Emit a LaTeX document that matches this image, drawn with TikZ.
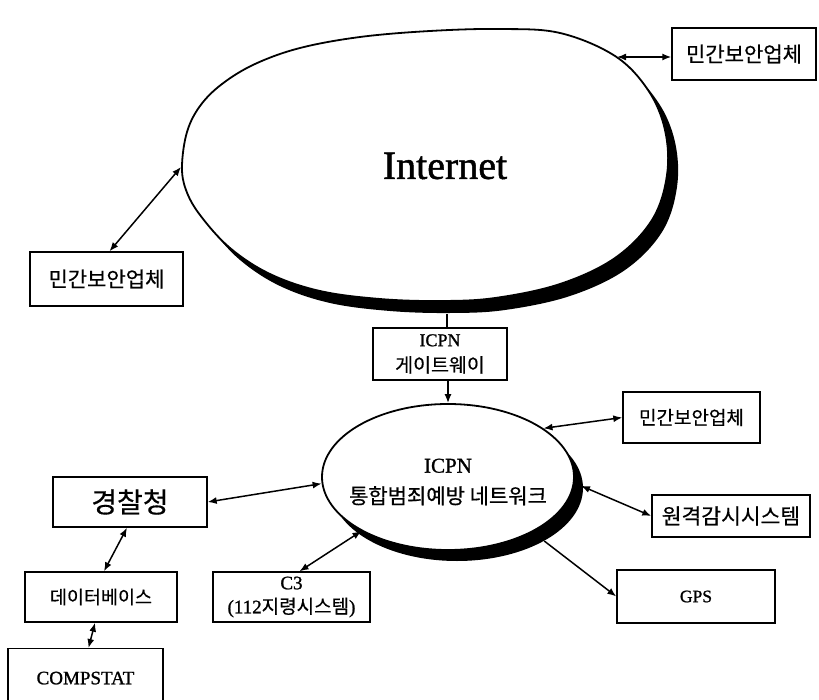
\documentclass[tikz,border=0pt]{standalone}
\usepackage{fontspec}
\setmainfont[FakeBold=1.2]{Liberation Serif}
\newfontfamily\kr[FakeBold=0.5]{Noto Sans CJK KR}
\usetikzlibrary{arrows.meta,shapes.geometric,shadows}

\begin{document}
\begin{tikzpicture}[x=1pt,y=-1pt,
  >={Latex[length=9pt,width=7pt]},
  box/.style={draw, line width=1.4pt, fill=white, inner sep=0pt, align=center},
  link/.style={line width=1.5pt},
  krfont/.style={font=\kr\fontsize{#1}{#1}\selectfont},
  latfont/.style={font=\fontsize{#1}{#1}\selectfont},
  shadowed/.style={drop shadow={shadow xshift=9pt, shadow yshift=-11pt, opacity=1, fill=black}},
]
\useasboundingbox (0,0) rectangle (819,700);
\clip (0,0) rectangle (819,700);

% Internet cloud: hand-drawn oval with a black drop shadow
\def\inetpath{plot[smooth cycle, tension=0.6] coordinates {
  (182,166) (187,132) (200,106) (222,84) (255,64) (300,48) (360,37)
  (430,31) (500,29) (560,33) (615,56) (648,90) (665,130) (667,175)
  (652,220) (615,258) (560,284) (495,298) (440,301) (380,299)
  (320,291) (270,274) (230,248) (200,215) (186,190)}}
\fill[black, shift={(10,12)}] \inetpath;
\filldraw[fill=white, draw=black, line width=1.8pt] \inetpath;
\coordinate (inetNE) at (617,57);
\coordinate (inetW) at (181,167);
\coordinate (inetS) at (447,314);
\node[latfont=40] (inetLabel) at (445,166) {Internet};

% boxes around the Internet
\node[box, krfont=21, minimum width=144pt, minimum height=52pt] (pvTop) at (744,54) {민간보안업체};
\node[box, krfont=21, minimum width=153pt, minimum height=54pt] (pvLeft) at (106.5,279) {민간보안업체};
\node[box, font=\fontsize{18}{26}\selectfont, minimum width=134pt, minimum height=52pt] (gw) at (440,354)
  {ICPN\\{\kr\fontsize{19.5}{26}\selectfont 게이트웨이}};

% ICPN network
\node[ellipse, draw, line width=1.8pt, fill=white, inner sep=0pt,
      minimum width=252pt, minimum height=146pt, shadowed] (icpn) at (448,477) {};
\node[align=center, font=\fontsize{21}{31}\selectfont] (icpnLabel) at (448,482)
  {ICPN\\{\kr\fontsize{21}{31}\selectfont 통합범죄예방 네트워크}};

\node[box, krfont=19, minimum width=137pt, minimum height=51pt] (pvMid) at (691.5,417.5) {민간보안업체};
\node[box, krfont=21.5, minimum width=158pt, minimum height=42pt] (remote) at (731,516) {원격감시시스템};
\node[box, latfont=17.5, minimum width=158pt, minimum height=53pt] (gps) at (696,596.5) {GPS};
\node[box, font=\fontsize{19}{24}\selectfont, minimum width=157pt, minimum height=50pt] (c3) at (291.5,597)
  {C3\\(112{\kr\fontsize{19}{24}\selectfont 지령시스템})};
\node[box, krfont=28, minimum width=154pt, minimum height=50pt] (police) at (130,502) {경찰청};
\node[box, krfont=18.5, minimum width=152pt, minimum height=50pt] (db) at (101,597) {데이터베이스};
\node[box, latfont=19, anchor=north, minimum width=155pt,
      text height=13pt, text depth=40pt, inner ysep=22.6pt] (comp) at (85.5,648) {COMPSTAT};

% connectors
\draw[link,<->] (inetNE) -- (inetNE -| pvTop.west);
\draw[link,<->] (inetW) -- ([xshift=3pt]pvLeft.north);
\draw[link] (inetS) -- (gw.north -| inetS);
\draw[link,->] (gw.south -| icpn.north) -- (icpn.north);
\draw[link,<->] (icpn.27.5) -- (pvMid.west);
\draw[link,<->] ([xshift=7pt]icpn.-4) -- (remote.west);
\draw[link,->] ([shift={(8,11)}]icpn.-31) -- (gps.west);
\draw[link,<->] (icpn.-148) -- ([xshift=8pt]c3.north);
\draw[link,<->] (icpn.183) -- (police.east);
\draw[link,<->] ([xshift=-3pt]police.south) -- ([xshift=3pt]db.north);
\draw[link,<->] ([xshift=-6pt]db.south) -- ([xshift=3pt]comp.north);
\end{tikzpicture}
\end{document}
